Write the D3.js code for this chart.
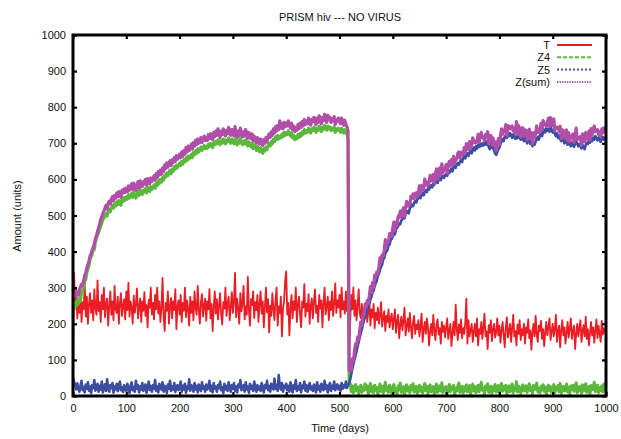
<!DOCTYPE html>
<html><head><meta charset="utf-8">
<script src="https://cdn.jsdelivr.net/npm/d3@7"></script>
<style>
html,body{margin:0;padding:0;background:#fff;}
text{font-family:"Liberation Sans",Arial,Helvetica,sans-serif;fill:#111;}
</style></head>
<body><svg id="c" width="621" height="439"></svg>
<script>
const title = "PRISM hiv --- NO VIRUS";
const xLabel = "Time (days)";
const yLabel = "Amount (units)";
const seriesNames = ["T", "Z4", "Z5", "Z(sum)"];
const xTicks = [0,100,200,300,400,500,600,700,800,900,1000];
const yTicks = [0,100,200,300,400,500,600,700,800,900,1000];
// sample days: every 2 days from 0 to 1000
const days = d3.range(0, 1001, 2);

const T = [
0,340,250,300,215,270,230,290,205,260,240,310,220,275,200,255,285,230,265,210,295,245,225,320,235,
260,205,280,240,300,218,255,270,195,248,290,225,262,210,305,240,230,275,200,258,285,222,250,268,212,
290,238,314,220,262,245,200,278,230,255,298,215,248,270,205,262,236,288,222,252,190,266,244,300,226,
258,212,280,240,300,228,262,205,246,327,220,180,258,236,290,200,250,272,215,262,238,296,185,248,265,
225,280,205,258,236,300,218,265,242,195,275,230,262,210,290,245,225,305,238,200,260,282,220,250,270,
208,262,240,296,215,255,180,245,290,228,268,212,250,285,225,198,260,242,300,222,256,275,210,246,288,
230,262,341,218,270,240,200,285,235,258,305,212,248,225,330,240,195,268,252,290,216,260,238,280,205,
255,290,228,262,190,245,300,232,268,176,250,222,285,240,210,265,300,195,248,230,275,165,242,262,318,
345,226,258,168,244,280,215,262,238,300,205,252,275,228,190,262,245,310,220,256,235,282,200,250,270,
215,262,295,230,250,205,280,242,265,190,258,300,226,248,275,210,262,238,290,222,255,312,230,265,245,
280,218,300,240,262,228,290,235,260,100,200,280,240,300,222,265,210,250,295,230,215,255,200,240,225,
248,205,232,262,195,240,218,255,188,230,210,245,200,225,260,192,218,235,180,222,205,240,190,215,228,
185,212,240,175,205,225,160,198,220,182,210,245,168,195,215,178,230,190,160,205,222,172,198,185,210,
165,195,228,150,185,205,172,215,190,140,180,200,168,225,182,155,198,212,170,188,145,205,178,195,162,
190,215,158,182,200,138,175,205,168,253,186,155,198,175,212,160,188,172,205,270,145,210,165,182,200,
150,178,200,165,215,140,185,172,205,158,190,228,165,180,130,196,175,210,152,185,200,162,178,215,168,
195,148,182,205,170,135,190,218,162,178,200,150,188,225,165,180,140,198,172,210,155,185,168,200,145,
190,175,212,160,182,128,178,200,165,222,170,150,195,180,208,158,185,138,176,205,168,190,215,155,180,
200,165,185,225,150,178,195,135,182,210,168,190,145,175,205,162,188,215,158,180,195,130,172,200,165,
188,210,150,178,196,165,220,158,185,140,175,205,168,190,148,182,212,160,195,172,150,208,170,188,175,
185];

const Z4 = [
245,238,258,250,266,255,270,262,285,292,300,318,322,340,352,360,378,385,392,410,405,425,438,445,452,
462,470,478,488,492,500,505,498,512,518,510,522,528,520,532,526,538,530,542,535,528,545,538,550,542,
552,545,558,548,556,562,550,565,556,548,560,568,555,572,562,558,570,565,575,562,578,570,566,580,572,
578,585,575,590,582,596,588,600,592,605,598,612,606,618,610,620,626,615,628,622,635,628,640,632,638,
645,638,650,642,655,648,660,652,665,656,662,670,660,675,668,680,672,685,676,682,690,680,688,694,685,
692,686,698,690,700,694,688,702,696,706,698,710,702,696,708,700,712,705,698,710,704,715,706,700,712,
705,698,712,700,695,708,700,715,702,696,706,698,710,700,692,704,698,690,700,685,696,688,680,692,684,
676,688,680,672,685,678,690,682,695,700,692,705,698,712,704,718,710,722,712,720,715,726,718,730,722,
730,724,735,726,720,730,715,722,710,718,712,725,716,728,720,732,725,738,728,735,730,742,734,728,740,
735,745,738,730,742,736,748,740,732,745,738,750,742,736,748,740,745,735,742,738,746,730,740,735,742,
738,730,742,735,728,738,730,725,710,30,35,12,28,8,22,32,14,25,6,20,30,10,24,16,34,
18,28,6,22,35,12,26,9,30,16,24,4,20,33,13,27,8,22,38,15,25,10,30,18,7,
24,32,12,20,6,28,17,36,10,22,26,5,19,31,14,24,9,29,18,34,11,21,27,7,16,
30,13,25,8,20,35,15,27,6,22,31,12,18,26,4,24,33,10,20,28,14,37,9,23,17,
26,7,21,32,12,25,18,30,5,22,14,28,36,10,20,27,8,24,15,31,11,19,29,6,23,
33,14,26,9,20,30,12,24,38,16,22,5,28,18,34,10,21,27,7,25,15,32,11,19,29,
8,23,35,13,26,17,30,6,22,28,12,19,33,9,24,16,40,11,27,20,7,25,31,14,22,
28,10,19,34,15,24,6,29,18,23,36,12,21,8,27,17,31,13,25,5,22,30,15,26,10,
20,32,9,25,17,29,12,35,7,22,27,14,19,33,11,24,6,28,18,30,13,21,37,9,25,
16,27,8,31,14,22,34,10,20,26,6,29,17,24,38,12,21,30,9,23,15,28,11,33,18,
20];

const Z5 = [
52,40,30,18,35,22,12,28,42,16,25,10,32,20,38,14,26,8,30,22,44,15,24,34,12,
28,18,40,10,24,32,14,46,20,12,30,22,36,9,26,18,34,13,28,40,16,24,11,30,20,
14,34,22,8,28,38,16,25,12,42,20,30,10,26,18,36,14,24,32,9,22,40,17,28,12,
30,20,44,15,26,10,34,22,18,38,12,28,24,8,32,20,42,14,26,18,36,11,24,30,16,
22,40,12,28,18,34,9,26,20,46,15,30,24,12,36,18,28,10,32,22,14,38,20,26,12,
32,18,24,42,14,28,10,36,20,26,12,30,22,40,16,24,8,34,18,28,14,38,22,12,30,
20,36,14,26,10,32,24,44,16,22,30,12,38,18,26,9,34,20,28,14,40,22,12,30,18,
26,14,36,20,10,30,22,42,16,28,12,34,24,18,48,20,30,14,58,26,18,36,12,28,22,
34,16,28,12,38,22,10,30,20,44,14,26,18,36,10,28,22,40,15,30,12,24,36,18,26,
14,32,22,10,38,18,28,12,34,24,16,42,20,30,10,26,36,14,28,20,40,16,24,32,18,
28,14,36,20,30,24,40,22,30,35,45,60,75,88,100,112,125,138,150,162,175,186,198,210,220,
228,236,250,256,268,275,288,292,305,312,320,334,338,350,358,364,378,382,395,400,405,418,420,432,436,
442,450,448,462,466,470,478,476,486,490,495,492,504,508,512,506,520,524,530,526,535,540,536,545,548,
552,548,558,562,556,566,570,565,575,572,580,584,578,588,585,592,596,590,600,604,598,606,610,604,612,
615,610,620,618,625,630,622,634,638,632,642,645,640,650,655,648,660,664,658,668,672,665,676,680,672,
682,688,680,692,685,695,690,698,692,700,694,702,696,705,698,690,684,695,688,690,680,672,668,676,684,
688,698,705,712,706,718,722,715,726,720,728,722,715,725,718,712,720,714,722,716,710,718,712,706,715,
708,700,712,705,698,706,692,700,696,705,712,718,710,722,728,720,732,738,730,742,735,740,732,745,738,
730,736,726,720,728,715,722,712,706,715,708,700,710,704,696,705,698,692,702,696,690,698,705,700,692,
698,692,686,695,690,684,696,702,698,708,702,712,706,716,710,720,714,708,716,710,704,712,718,710,715,
712];

const Zsum = [
290,300,282,276,288,280,294,302,310,306,320,334,342,355,364,374,388,394,405,412,422,436,444,455,466,
476,490,496,506,512,520,528,518,534,540,532,546,552,540,556,548,562,552,566,558,550,570,562,574,564,
576,566,582,570,578,588,572,590,578,570,584,594,576,596,586,580,594,588,600,584,602,592,588,604,594,
600,610,598,616,604,622,612,626,614,632,622,640,630,646,634,644,652,638,654,646,660,650,666,656,662,
670,660,676,664,680,670,688,676,692,680,686,698,684,702,692,708,696,712,700,706,716,702,712,720,708,
716,708,724,712,726,718,710,730,718,734,722,740,728,716,734,724,740,728,720,736,726,744,730,722,738,
730,720,746,724,716,734,722,742,726,718,732,720,738,724,714,730,720,712,726,706,720,710,700,716,704,
698,712,702,694,710,700,716,704,720,726,716,732,722,740,728,746,734,750,738,762,742,754,740,758,746,
756,748,762,750,742,756,738,748,732,744,736,752,740,756,744,760,748,766,752,762,754,770,758,750,766,
760,772,762,752,770,758,776,764,754,772,762,780,768,758,778,766,772,758,768,762,774,752,766,760,770,
764,754,770,758,750,764,752,746,735,70,80,72,103,96,122,144,139,163,156,182,205,196,222,226,254,
246,264,256,278,303,287,314,301,335,328,344,338,358,383,371,391,386,404,433,415,430,428,450,450,443,
466,482,460,482,472,498,495,512,496,512,521,497,523,539,526,530,529,553,548,560,546,561,563,552,564,
582,561,583,570,576,601,585,592,581,594,611,596,596,614,589,616,629,600,620,632,612,643,619,627,629,
641,617,641,650,637,655,640,664,643,654,656,673,676,660,675,675,668,688,673,699,683,684,705,686,695,
715,702,706,701,705,725,702,722,730,716,716,707,724,723,732,700,705,722,695,715,695,704,679,695,713,
696,721,740,725,732,735,752,721,748,748,740,741,748,734,742,728,760,725,749,736,717,743,743,720,737,
736,710,731,739,713,730,698,729,714,728,748,730,731,730,755,737,763,751,755,747,757,770,747,771,748,
750,768,735,745,745,744,734,747,713,737,735,714,729,737,707,729,704,720,720,726,703,719,742,709,717,
714,719,694,726,704,706,730,712,718,734,708,741,723,740,748,732,735,738,725,733,719,740,729,743,733,
732];

const colors = ["#ec1c24", "#5cb83c", "#3b4ea2", "#b04ea8"];
const dashes = [null, "4,2", "2,2", "1.3,1.2"];
const lineWidths = [1.8, 3, 2.6, 3.2];
const seriesData = [T, Z4, Z5, Zsum];

const svg = d3.select("#c");
const L = 73, R = 606, TOP = 35, B = 396;
const x = d3.scaleLinear().domain([0, 1000]).range([L, R]);
const y = d3.scaleLinear().domain([0, 1000]).range([B, TOP]);

// data lines (dense noisy data reads as solid bands)
const line = d3.line().x((d, i) => x(days[i])).y(d => y(d));
seriesData.forEach((s, k) => {
  svg.append("path").datum(s)
    .attr("d", line)
    .attr("fill", "none")
    .attr("stroke", colors[k])
    .attr("stroke-width", lineWidths[k])
    .attr("stroke-linejoin", "round");
});

// axes with inward ticks
const fs = "11px";
const ax = svg.append("g").attr("transform", `translate(0,${B})`)
  .call(d3.axisBottom(x).tickValues(xTicks).tickSize(-4).tickPadding(8).tickFormat(d3.format("d")));
const ay = svg.append("g").attr("transform", `translate(${L},0)`)
  .call(d3.axisLeft(y).tickValues(yTicks).tickSize(-4).tickPadding(7).tickFormat(d3.format("d")));
const at = svg.append("g").attr("transform", `translate(0,${TOP})`)
  .call(d3.axisTop(x).tickValues(xTicks).tickSize(-4).tickFormat(""));
const ar = svg.append("g").attr("transform", `translate(${R},0)`)
  .call(d3.axisRight(y).tickValues(yTicks).tickSize(-4).tickFormat(""));
[ax, ay, at, ar].forEach(g => {
  g.select(".domain").remove();
  g.selectAll(".tick line").attr("stroke", "#000").attr("stroke-width", 2.2);
  g.selectAll(".tick text").style("font-size", fs).attr("fill", "#111")
    .style("font-family", '"Liberation Sans", Arial, sans-serif');
});

svg.append("rect").attr("x", L).attr("y", TOP).attr("width", R - L).attr("height", B - TOP)
  .attr("fill", "none").attr("stroke", "#000").attr("stroke-width", 3);

// titles
svg.append("text").attr("x", 340).attr("y", 21).attr("text-anchor", "middle")
  .style("font-size", "11px").text(title);
svg.append("text").attr("x", 340).attr("y", 432).attr("text-anchor", "middle")
  .style("font-size", "11px").text(xLabel);
svg.append("text").attr("transform", "translate(21,216) rotate(-90)").attr("text-anchor", "middle")
  .style("font-size", "11px").text(yLabel);

// legend
const lg = svg.append("g");
seriesNames.forEach((n, k) => {
  const yy = 45 + k * 12.3;
  lg.append("text").attr("x", 550).attr("y", yy + 4).attr("text-anchor", "end")
    .style("font-size", "11px").text(n);
  lg.append("line").attr("x1", 557).attr("x2", 592).attr("y1", yy).attr("y2", yy)
    .attr("stroke", colors[k]).attr("stroke-width", 2)
    .attr("stroke-dasharray", dashes[k]);
});
</script></body></html>
